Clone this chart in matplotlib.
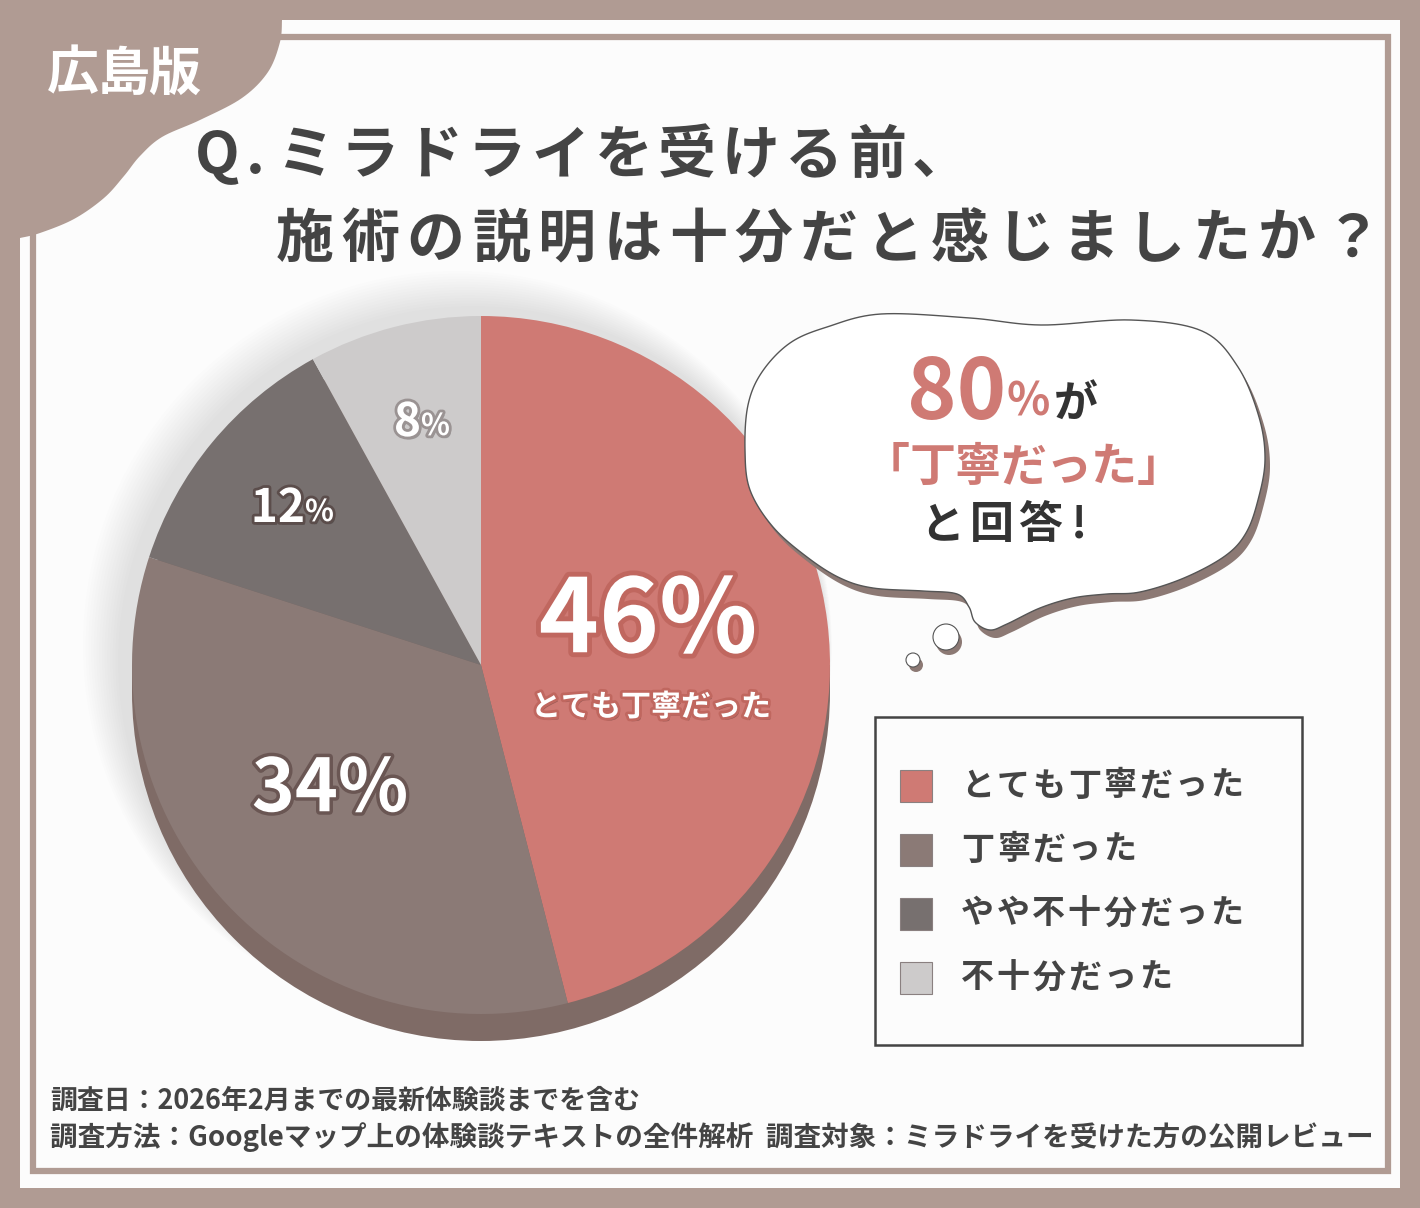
import numpy as np
import matplotlib
matplotlib.use("Agg")
import matplotlib.pyplot as plt
from matplotlib.patches import Rectangle, Circle, Polygon
import matplotlib.patheffects as pe

# ---------------- data ----------------
categories = ["とても丁寧だった", "丁寧だった", "やや不十分だった", "不十分だった"]
values = [46, 34, 12, 8]
colors = ["#cf7a74", "#8b7a76", "#77706f", "#cdcbcb"]
title_line1 = "Q.ミラドライを受ける前、"
title_line2 = "施術の説明は十分だと感じましたか？"
badge = "広島版"
bubble_pct = "80%"
bubble_line2 = "「丁寧だった」"
bubble_line3 = "と回答!"
footer1 = "調査日：2026年2月までの最新体験談までを含む"
footer2 = "調査方法：Googleマップ上の体験談テキストの全件解析  調査対象：ミラドライを受けた方の公開レビュー"

FAM = ["Noto Sans CJK JP", "DejaVu Sans"]
plt.rcParams["font.family"] = FAM

W, H = 1420, 1208
fig = plt.figure(figsize=(W / 100, H / 100), dpi=100)
fig.patch.set_facecolor("#b09b93")
ax = fig.add_axes([0, 0, 1, 1])
ax.set_xlim(0, W)
ax.set_ylim(0, H)
ax.axis("off")


def Y(y):
    return H - y


def PT(px):
    return px * 0.72


def catmull(pts, n=16, closed=True):
    pts = np.asarray(pts, float)
    N = len(pts)
    out = []
    rng = range(N) if closed else range(N - 1)
    for i in rng:
        p0 = pts[i - 1] if (closed or i > 0) else pts[0]
        p1 = pts[i]
        p2 = pts[(i + 1) % N]
        p3 = pts[(i + 2) % N] if (closed or i + 2 < N) else pts[-1]
        t = np.linspace(0, 1, n, endpoint=False)[:, None]
        out.append(0.5 * ((2 * p1) + (-p0 + p2) * t + (2 * p0 - 5 * p1 + 4 * p2 - p3) * t ** 2
                          + (-p0 + 3 * p1 - 3 * p2 + p3) * t ** 3))
    if not closed:
        out.append(pts[-1:])
    return np.vstack(out)


def spaced(text, x0, y, step, size_px, half=0.6, **kw):
    x = x0
    for ch in text:
        w = step * half if ord(ch) < 0x2000 else step
        ax.text(x + w / 2, Y(y), ch, fontsize=PT(size_px), ha="center", va="center", **kw)
        x += w


# ---------------- card ----------------
ax.add_patch(Rectangle((20, Y(1188)), 1380, 1168, facecolor="#fcfcfc", edgecolor="none", zorder=0))
ax.add_patch(Rectangle((33, Y(1171)), 1355, 1134, facecolor="none", edgecolor="#b09b93", lw=4.5, zorder=1))

# corner blob
curve = [(282, 20), (280, 42), (268, 72), (242, 98), (200, 120), (162, 137), (140, 156),
         (124, 176), (104, 198), (74, 219), (40, 233), (20, 238)]
cpts = catmull([(x, Y(y)) for x, y in curve], n=10, closed=False)
blob = np.vstack([[(0, Y(0)), (282, Y(0))], cpts, [(0, Y(238))]])
ax.add_patch(Polygon(blob, closed=True, facecolor="#b09b93", edgecolor="none", zorder=2))
spaced(badge, 47, 74, 51, 52, color="white", fontweight="bold", zorder=3)

# ---------------- title ----------------
spaced(title_line1, 198, 156, 63.5, 58, color="#444444", fontweight="bold", zorder=3)
spaced(title_line2, 272, 240, 65.5, 58, color="#444444", fontweight="bold", zorder=3)

# ---------------- pie ----------------
cx, cy, R, depth = 481, 665, 349, 27
for k in range(14):
    ax.add_patch(Circle((cx - 8 - k * 1.2, Y(cy) + 4 + k * 1.2), R + 6 + k * 1.5,
                        facecolor="#000000", alpha=0.006, edgecolor="none", zorder=3))
ax.add_patch(Circle((cx, Y(cy + depth)), R, facecolor="#7f6b66", edgecolor="none", zorder=4))
ax.add_patch(Rectangle((cx - R, Y(cy + depth)), 2 * R, depth, facecolor="#7f6b66",
                       edgecolor="none", zorder=4))
wedges, _ = ax.pie(values, colors=colors, startangle=90, counterclock=False,
                   center=(cx, Y(cy)), radius=R, frame=True,
                   wedgeprops=dict(linewidth=0, zorder=5))
for w in wedges:
    w.set_zorder(5)
ax.set_xlim(0, W)
ax.set_ylim(0, H)
ax.set_aspect("auto")
ax.axis("off")


def fx(stroke, sw=4):
    return [pe.withSimplePatchShadow(offset=(1.5, -2), shadow_rgbFace="#000000", alpha=0.25),
            pe.Stroke(linewidth=sw, foreground=stroke), pe.Normal()]


ax.text(648, Y(622), f"{values[0]}%", fontsize=PT(102), color="white", fontweight="bold",
        ha="center", va="center", zorder=6, path_effects=fx("#c0675f", 7))
ax.text(651, Y(707), categories[0], fontsize=PT(30), color="white", fontweight="bold",
        ha="center", va="center", zorder=6, path_effects=fx("#c0675f", 4))
ax.text(330, Y(790), f"{values[1]}%", fontsize=PT(73), color="white", fontweight="bold",
        ha="center", va="center", zorder=6, path_effects=fx("#6a5653", 5))
# smaller labels with a smaller percent sign
ax.text(305, Y(508), f"{values[2]}", fontsize=PT(46), color="white", fontweight="bold",
        ha="right", va="center", zorder=6, path_effects=fx("#5b4d4b", 4))
ax.text(305, Y(512), "%", fontsize=PT(30), color="white", fontweight="bold",
        ha="left", va="center", zorder=6, path_effects=fx("#5b4d4b", 4))
ax.text(421, Y(422), f"{values[3]}", fontsize=PT(46), color="white", fontweight="bold",
        ha="right", va="center", zorder=6, path_effects=fx("#9a9393", 4))
ax.text(421, Y(426), "%", fontsize=PT(30), color="white", fontweight="bold",
        ha="left", va="center", zorder=6, path_effects=fx("#9a9393", 4))

# ---------------- bubble ----------------
bub = [(827, 327), (881, 314), (970, 318), (1041, 325), (1131, 320), (1202, 331), (1238, 367),
       (1259, 417), (1265, 460), (1258, 500), (1246, 533), (1225, 556), (1184, 578), (1140, 592),
       (1107, 594), (1073, 598), (1040, 608), (1007, 624), (990, 630), (975, 622), (969, 607),
       (957, 594), (923, 591), (873, 588), (840, 578), (807, 557), (773, 527), (750, 490),
       (745, 450), (748, 405), (762, 372), (790, 343)]
bp = catmull([(x, Y(y)) for x, y in bub], n=12)
ax.add_patch(Polygon(bp + np.array([5, -8]), closed=True, facecolor="#8c7974", edgecolor="none", zorder=7))
ax.add_patch(Polygon(bp, closed=True, facecolor="white", edgecolor="#555555", lw=1.0, zorder=8))
for (bx, by, br) in [(946, 637, 13), (913, 660, 7)]:
    ax.add_patch(Circle((bx + 3, Y(by + 5)), br, facecolor="#8c7974", edgecolor="none", zorder=7))
    ax.add_patch(Circle((bx, Y(by)), br, facecolor="white", edgecolor="#555555", lw=0.8, zorder=8))

ax.text(1006, Y(395), bubble_pct[:-1], fontsize=PT(84), color="#cf7a74", fontweight="bold",
        ha="right", va="center", zorder=9)
ax.text(1007, Y(402), "%", fontsize=PT(45), color="#cf7a74", fontweight="bold",
        ha="left", va="center", zorder=9)
ax.text(1076, Y(404), "が", fontsize=PT(44), color="#333333", fontweight="bold",
        ha="center", va="center", zorder=9)
spaced(bubble_line2, 864, 467, 45.5, 46, half=1.0, color="#cf7a74", fontweight="bold", zorder=9)
spaced(bubble_line3[:-1], 918, 525, 49, 44, color="#333333", fontweight="bold", zorder=9)
ax.text(1079, Y(525), "!", fontsize=PT(44), color="#333333", fontweight="bold",
        ha="center", va="center", zorder=9)

# ---------------- legend ----------------
ax.add_patch(Rectangle((875, Y(1045)), 427, 328, facecolor="#fcfcfc", edgecolor="#444444",
                       lw=1.8, zorder=9))
rows = [786, 850, 914, 978]
for lab, col, ry in zip(categories, colors, rows):
    ax.add_patch(Rectangle((900, Y(ry + 16)), 32, 32, facecolor=col, edgecolor="#8a8080",
                           lw=0.8, zorder=10))
    spaced(lab, 960, ry, 35.5, 33, color="#444444", fontweight="bold", zorder=10)

# ---------------- footer ----------------
ax.text(50, Y(1101), footer1, fontsize=PT(26.9), color="#444444", fontweight="bold",
        ha="left", va="center", zorder=10)
ax.text(50, Y(1137), footer2, fontsize=PT(27.6), color="#444444", fontweight="bold",
        ha="left", va="center", zorder=10)

fig.savefig("out.png", dpi=100, facecolor=fig.get_facecolor())
